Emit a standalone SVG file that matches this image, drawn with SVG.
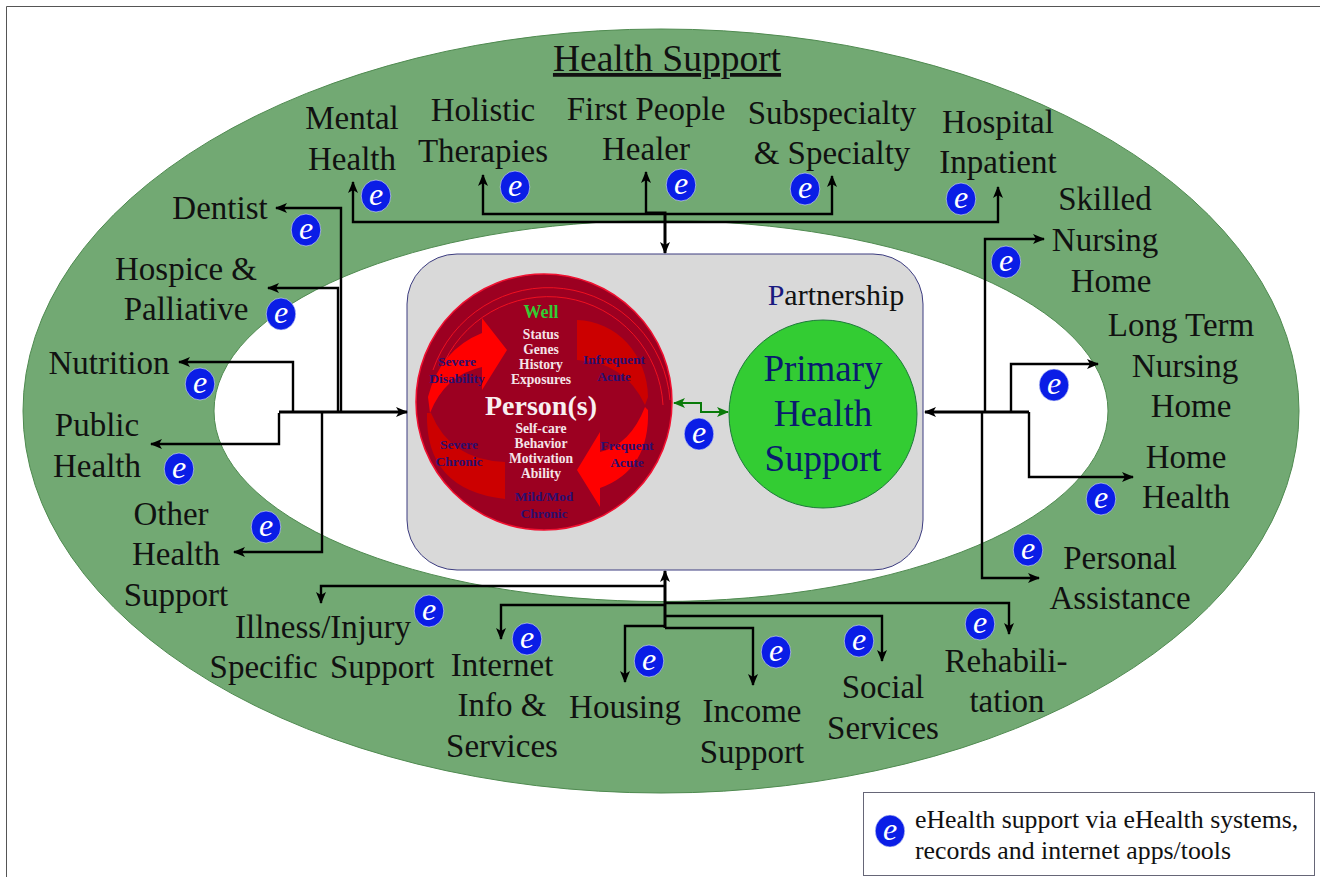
<svg xmlns="http://www.w3.org/2000/svg" width="1320" height="877" viewBox="0 0 1320 877">
<style>
text{font-family:"Liberation Serif","Times New Roman",serif;text-anchor:middle}
.n{font-size:33px;fill:#111}
.c{fill:none;stroke:#000;stroke-width:2.4;stroke-linejoin:miter}
.t{fill:none;stroke:#000;stroke-width:3}
.w{font-size:13.6px;font-weight:bold;fill:#f4e4e8}
.d{font-size:13.5px;font-weight:bold;fill:#2a0f70}
.eb{fill:#0a1de6;stroke:#dfe6f5;stroke-width:.6}
.et{font-size:32px;font-style:italic;fill:#fff}
</style>
<defs>
<marker id="a" viewBox="0 0 12 10" refX="11" refY="5" markerWidth="12" markerHeight="10" markerUnits="userSpaceOnUse" orient="auto-start-reverse"><path d="M0 0L12 5L0 10L3 5Z" fill="#000"/></marker>
<marker id="g" viewBox="0 0 12 10" refX="11" refY="5" markerWidth="12" markerHeight="10" markerUnits="userSpaceOnUse" orient="auto-start-reverse"><path d="M0 0L12 5L0 10L3 5Z" fill="#0a7a0a"/></marker>
<g id="eb"><ellipse class="eb" rx="14.8" ry="16"/><text class="et" y="9">e</text></g>
</defs>
<rect width="1320" height="877" fill="#fff"/>
<path d="M6.500 877V6.500H1320" fill="none" stroke="#555" stroke-width="1"/>
<g id="rings">
<ellipse cx="661" cy="411" rx="638" ry="382" fill="#72a973" stroke="#4f8a50"/>
<ellipse cx="661" cy="411" rx="447" ry="190.500" fill="#fff" stroke="#4f8a50"/>
</g>
<text x="667" y="71" font-size="37.500" fill="#111" text-decoration="underline">Health Support</text>
<g id="partnership">
<rect x="407" y="254" width="516" height="316" rx="50" fill="#d9d9d9" stroke="#3c3c80"/>
<text x="836" y="305" font-size="30" fill="#111"><tspan fill="#1a1a80">P</tspan>artnership</text>
</g>
<g id="person">
<circle cx="544" cy="402" r="128" fill="#9c0021" stroke="#f01030" stroke-width="1.500"/>
<path d="M433 370A122 122 0 0 1 670 400" fill="none" stroke="#f01020" stroke-width="1"/>
<path d="M441 370A115 115 0 0 1 663 405" fill="none" stroke="#f01020" stroke-width="1"/>
<path d="M428 397Q440 350 482 333V318L507 350L482 390V367Q445 375 430 413Z" fill="#ff0000"/>
<path d="M577 320A72 78 0 0 1 648 397L645 405Q625 362 577 360Z" fill="#cc0000"/>
<path d="M645 407L648 410Q650 470 600 488V507L577 470L600 432V452Q630 445 645 407Z" fill="#ff0000"/>
<path d="M427 413Q425 490 505 499V462Q450 460 431 413Z" fill="#cc0000"/>
<text x="541" y="318" font-size="18" font-weight="bold" fill="#33cc33">Well</text>
<g class="w"><text class="w" x="541" y="339">Status</text><text class="w" x="541" y="354">Genes</text><text class="w" x="541" y="369">History</text><text class="w" x="541" y="384">Exposures</text>
<text class="w" x="541" y="433">Self-care</text><text class="w" x="541" y="448">Behavior</text><text class="w" x="541" y="463">Motivation</text><text class="w" x="541" y="478">Ability</text></g>
<text x="541" y="415" font-size="28" font-weight="bold" fill="#f8eef0">Person(s)</text>
<text class="d" x="457" y="366">Severe</text><text class="d" x="457" y="383">Disability</text>
<text class="d" x="614" y="364">Infrequent</text><text class="d" x="614" y="381">Acute</text>
<text class="d" x="459" y="449">Severe</text><text class="d" x="459" y="466">Chronic</text>
<text class="d" x="627" y="450">Frequent</text><text class="d" x="627" y="467">Acute</text>
<text class="d" x="544" y="501">Mild/Mod</text><text class="d" x="544" y="518">Chronic</text>
</g>
<g id="primary">
<circle cx="823" cy="414" r="94" fill="#33cc33" stroke="#1d7a3a"/>
<text x="823" y="381" font-size="37" fill="#0a1a6e">Primary</text>
<text x="823" y="426" font-size="37" fill="#0a1a6e">Health</text>
<text x="823" y="471" font-size="37" fill="#0a1a6e">Support</text>
</g>
<g id="connectors">
<path d="M674 403H701V412H728" fill="none" stroke="#0a7a0a" stroke-width="2" marker-start="url(#g)" marker-end="url(#g)"/>
<g class="c">
<path class="c" d="M650 222H353V182" marker-end="url(#a)"/>
<path class="c" d="M646 214H483V175" marker-end="url(#a)"/>
<path class="c" d="M646 214V172" marker-end="url(#a)"/>
<path class="c" d="M646 214H832V176" marker-end="url(#a)"/>
<path class="c" d="M650 222H998V187" marker-end="url(#a)"/>
<path class="t" d="M646 213H665V253" marker-end="url(#a)"/>
<path class="c" d="M341 411V208H276" marker-end="url(#a)"/>
<path class="c" d="M338 411V288H268" marker-end="url(#a)"/>
<path class="c" d="M293 411V362H179" marker-end="url(#a)"/>
<path class="c" d="M279 413V444H151" marker-end="url(#a)"/>
<path class="t" d="M279 412H407" marker-end="url(#a)"/>
<path class="c" d="M322 412V552H234" marker-end="url(#a)"/>
<path class="t" d="M665 600V571" marker-end="url(#a)"/>
<path class="c" d="M665 586H321V603" marker-end="url(#a)"/>
<path class="c" d="M665 605H501V639" marker-end="url(#a)"/>
<path class="c" d="M665 603H1009V634" marker-end="url(#a)"/>
<path class="c" d="M665 616H882V661" marker-end="url(#a)"/>
<path class="c" d="M665 628H753V685" marker-end="url(#a)"/>
<path class="c" d="M665 626H625V682" marker-end="url(#a)"/>
<path class="t" d="M665 600V628"/>
<path class="t" d="M1029 412H925" marker-end="url(#a)"/>
<path class="c" d="M985 412V239H1044" marker-end="url(#a)"/>
<path class="c" d="M1011 412V364H1098" marker-end="url(#a)"/>
<path class="c" d="M1029 412V477H1133" marker-end="url(#a)"/>
<path class="c" d="M982 412V578H1039" marker-end="url(#a)"/>
</g>
</g>
<g id="labels" class="n">
<text class="n" x="352" y="129">Mental</text><text class="n" x="352" y="170">Health</text>
<text class="n" x="483" y="121">Holistic</text><text class="n" x="483" y="162">Therapies</text>
<text class="n" x="646" y="120">First People</text><text class="n" x="646" y="160">Healer</text>
<text class="n" x="832" y="124">Subspecialty</text><text class="n" x="832" y="164">&amp; Specialty</text>
<text class="n" x="998" y="133">Hospital</text><text class="n" x="998" y="173">Inpatient</text>
<text class="n" x="220" y="219">Dentist</text>
<text class="n" x="186" y="280">Hospice &amp;</text><text class="n" x="186" y="320">Palliative</text>
<text class="n" x="109" y="374">Nutrition</text>
<text class="n" x="97" y="436">Public</text><text class="n" x="97" y="477">Health</text>
<text class="n" x="171" y="525">Other</text><text class="n" x="176" y="565">Health</text><text class="n" x="176" y="606">Support</text>
<text class="n" x="323" y="638">Illness/Injury</text><text class="n" x="322" y="678" word-spacing="4">Specific Support</text>
<text class="n" x="502" y="676">Internet</text><text class="n" x="502" y="716">Info &amp;</text><text class="n" x="502" y="757">Services</text>
<text class="n" x="625" y="718">Housing</text>
<text class="n" x="752" y="722">Income</text><text class="n" x="752" y="763">Support</text>
<text class="n" x="883" y="698">Social</text><text class="n" x="883" y="739">Services</text>
<text class="n" x="1006" y="672">Rehabili-</text><text class="n" x="1007" y="712">tation</text>
<text class="n" x="1105" y="210">Skilled</text><text class="n" x="1105" y="251">Nursing</text><text class="n" x="1111" y="292">Home</text>
<text class="n" x="1181" y="336">Long Term</text><text class="n" x="1185" y="377">Nursing</text><text class="n" x="1191" y="417">Home</text>
<text class="n" x="1186" y="468">Home</text><text class="n" x="1186" y="508">Health</text>
<text class="n" x="1120" y="569">Personal</text><text class="n" x="1120" y="609">Assistance</text>
</g>
<g id="ehealth-badges">
<use href="#eb" x="376" y="196"/><use href="#eb" x="515" y="187"/><use href="#eb" x="681" y="185"/><use href="#eb" x="805" y="189"/><use href="#eb" x="961" y="199"/>
<use href="#eb" x="306" y="230"/><use href="#eb" x="281" y="314"/><use href="#eb" x="200" y="384"/><use href="#eb" x="179" y="469"/><use href="#eb" x="266" y="527"/>
<use href="#eb" x="429" y="611"/><use href="#eb" x="527" y="639"/><use href="#eb" x="649" y="661"/><use href="#eb" x="776" y="652"/><use href="#eb" x="859" y="641"/><use href="#eb" x="980" y="624"/>
<use href="#eb" x="1006" y="262"/><use href="#eb" x="1054" y="385"/><use href="#eb" x="1101" y="499"/><use href="#eb" x="1028" y="550"/><use href="#eb" x="699" y="434"/>
</g>
<g id="legend">
<rect x="863.500" y="792.500" width="451" height="83" fill="#fff" stroke="#667"/>
<use href="#eb" x="890" y="831"/>
<text x="915" y="828" font-size="25.800" fill="#111" style="text-anchor:start">eHealth support via eHealth systems,</text>
<text x="915" y="859" font-size="25.800" fill="#111" style="text-anchor:start">records and internet apps/tools</text>
</g>
</svg>
